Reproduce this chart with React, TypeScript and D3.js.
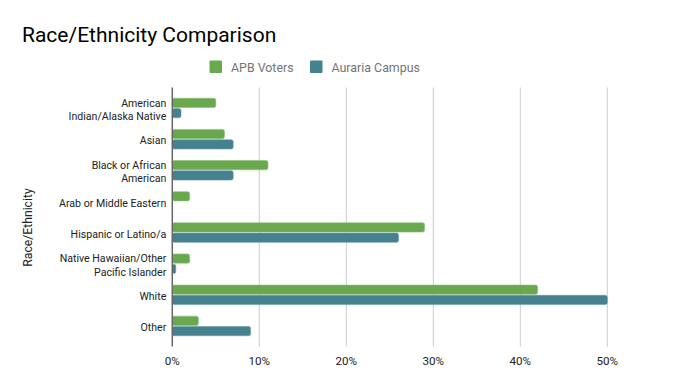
import React from "react";
import * as d3 from "d3";

const categories: string[][] = [
  ["American", "Indian/Alaska Native"],
  ["Asian"],
  ["Black or African", "American"],
  ["Arab or Middle Eastern"],
  ["Hispanic or Latino/a"],
  ["Native Hawaiian/Other", "Pacific Islander"],
  ["White"],
  ["Other"],
];
const apbVoters = [5, 6, 11, 2, 29, 2, 42, 3];
const aurariaCampus = [1, 7, 7, 0, 26, 0.4, 50, 9];
const xTicks = [0, 10, 20, 30, 40, 50];
const seriesNames = ["APB Voters", "Auraria Campus"];
const colors = ["#6aa84f", "#45818e"];

export default function App() {
  const W = 698, H = 390;
  const left = 172.3, right = 607.3, top = 87.5, bottom = 346.5;
  const x = d3.scaleLinear().domain([0, 50]).range([left, right]);
  const keys = categories.map((_, i) => String(i));
  const y = d3.scaleBand().domain(keys).range([top, bottom]).paddingInner(0).paddingOuter(0.16);
  const barH = 9.3;
  const font = "Roboto, 'Noto Sans', sans-serif";
  return (
    <svg width={W} height={H} style={{ position: "absolute", left: 0, top: 0 }} fontFamily={font}>
      <rect width={W} height={H} fill="#fff" />
      <text x={22} y={41.5} fontSize={21} fill="#000">Race/Ethnicity Comparison</text>
      {seriesNames.map((s, i) => {
        const lx = [209.5, 310][i];
        return (
          <g key={s}>
            <rect x={lx} y={60.5} width={12.5} height={12.5} fill={colors[i]} rx={1} />
            <text x={lx + 21.5} y={71.5} fontSize={12.4} fill="#757575">{s}</text>
          </g>
        );
      })}
      {xTicks.filter((t) => t > 0).map((t) => (
        <line key={t} x1={x(t)} x2={x(t)} y1={top} y2={bottom} stroke="#cccccc" strokeWidth={1} />
      ))}
      {xTicks.map((t) => (
        <text key={t} x={x(t)} y={365} fontSize={11.6} textAnchor="middle" fill="#222">{t}%</text>
      ))}
      {categories.map((lines, i) => {
        const yc = (y(String(i)) as number) + y.bandwidth() / 2;
        const g = apbVoters[i];
        const b = aurariaCampus[i];
        const lh = 13.5;
        const y0 = yc - ((lines.length - 1) * lh) / 2;
        return (
          <g key={i}>
            {lines.map((l, j) => (
              <text key={j} x={166.3} y={y0 + j * lh + 5.3} fontSize={10.6} textAnchor="end" fill="#222">{l}</text>
            ))}
            {g > 0 && (
              <rect x={x(0)} y={yc - barH - 0.5} width={x(g) - x(0)} height={barH} fill={colors[0]} rx={2} stroke="#8cc277" strokeWidth={0.6} />
            )}
            {b > 0 && (
              <rect x={x(0)} y={yc + 0.5} width={x(b) - x(0)} height={barH} fill={colors[1]} rx={2} stroke="#6b9ba5" strokeWidth={0.6} />
            )}
          </g>
        );
      })}
      <line x1={left} x2={left} y1={top} y2={bottom} stroke="#666" strokeWidth={1.5} />
      <text transform={`translate(31.5,227.5) rotate(-90)`} fontSize={12.2} textAnchor="middle" fill="#222">Race/Ethnicity</text>
    </svg>
  );
}
